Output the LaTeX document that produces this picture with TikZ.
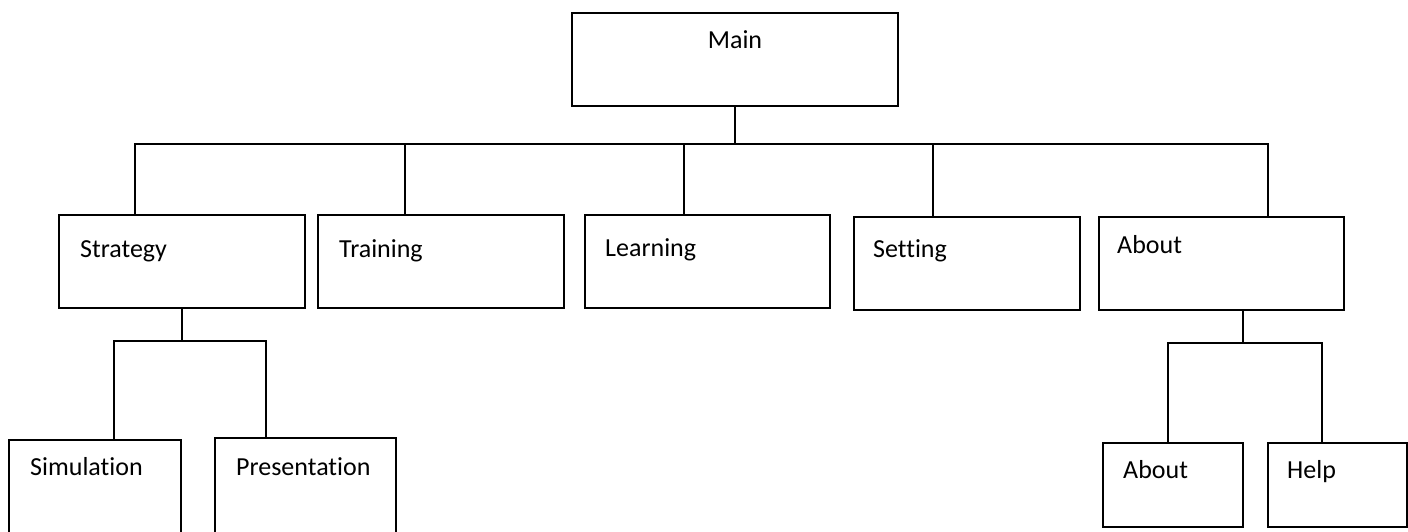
\documentclass[tikz,border=0pt]{standalone}
\usepackage{fontspec}
\setmainfont[Ligatures=NoCommon]{Carlito}

\tikzset{
    box/.style={draw, line width=2pt, inner sep=0pt, outer sep=0pt, minimum height=93pt},
    txt/.style={inner sep=0pt, anchor=base west, font=\fontsize{26}{30}\selectfont},
    link/.style={line width=1.5pt},
}

\begin{document}
\begin{tikzpicture}[x=1pt, y=-1pt]
    \clip (0,0) rectangle (1408,532);

    % Top: main menu
    \node[box, minimum width=326pt] (main) at (735,59.5) {};
    \node[txt, anchor=base] (main-t) at (735,49) {Main};

    % Second level
    \node[box, minimum width=246pt] (strategy) at (182,261.5) {};
    \node[box, minimum width=246pt] (training) at (441,261.5) {};
    \node[box, minimum width=245pt] (learning) at (707.5,261.5) {};
    \node[box, minimum width=226pt] (setting) at (967,263.5) {};
    \node[box, minimum width=245pt] (about) at (1221.5,263.5) {};
    \node[txt] (strategy-t) at (80,257) {Strategy};
    \node[txt] (training-t) at (339,257) {Training};
    \node[txt] (learning-t) at (605,256) {Learning};
    \node[txt] (setting-t) at (873,257) {Setting};
    \node[txt] (about-t) at (1117,253) {About};

    % Third level
    \node[box, minimum width=172pt, minimum height=122pt] (simulation) at (95,501) {};
    \node[box, minimum width=181pt, minimum height=122pt] (presentation) at (305.5,499) {};
    \node[box, minimum width=140pt, minimum height=84pt] (aboutsub) at (1173,485) {};
    \node[box, minimum width=139pt, minimum height=84pt] (help) at (1337.5,485) {};
    \node[txt] (simulation-t) at (30,475) {Simulation};
    \node[txt] (presentation-t) at (236,475) {Presentation};
    \node[txt] (aboutsub-t) at (1123,478) {About};
    \node[txt] (help-t) at (1287,478) {Help};

    % Main -> second level
    \coordinate (bus-w) at (135,144);
    \coordinate (bus-e) at (1268,144);
    \draw[link] (main.south) -- (main.south |- bus-w);
    \draw[link] (strategy.north -| bus-w) -- (bus-w) -- (bus-e) -- (bus-e |- about.north);
    \foreach \x/\n in {405/training, 684/learning, 933/setting} {
        \coordinate (drop) at (\x,144);
        \draw[link] (drop) -- (drop |- \n.north);
    }

    % Strategy -> third level
    \coordinate (sub-w) at (114,341);
    \coordinate (sub-e) at (266,341);
    \draw[link] (strategy.south) -- (strategy.south |- sub-w);
    \draw[link] (sub-w |- simulation.north) -- (sub-w) -- (sub-e) -- (sub-e |- presentation.north);

    % About -> third level
    \coordinate (hub) at (1243,343);
    \coordinate (hub-w) at (1168,343);
    \coordinate (hub-e) at (1322,343);
    \draw[link] (hub |- about.south) -- (hub);
    \draw[link] (hub-w |- aboutsub.north) -- (hub-w) -- (hub-e) -- (hub-e |- help.north);
\end{tikzpicture}
\end{document}
